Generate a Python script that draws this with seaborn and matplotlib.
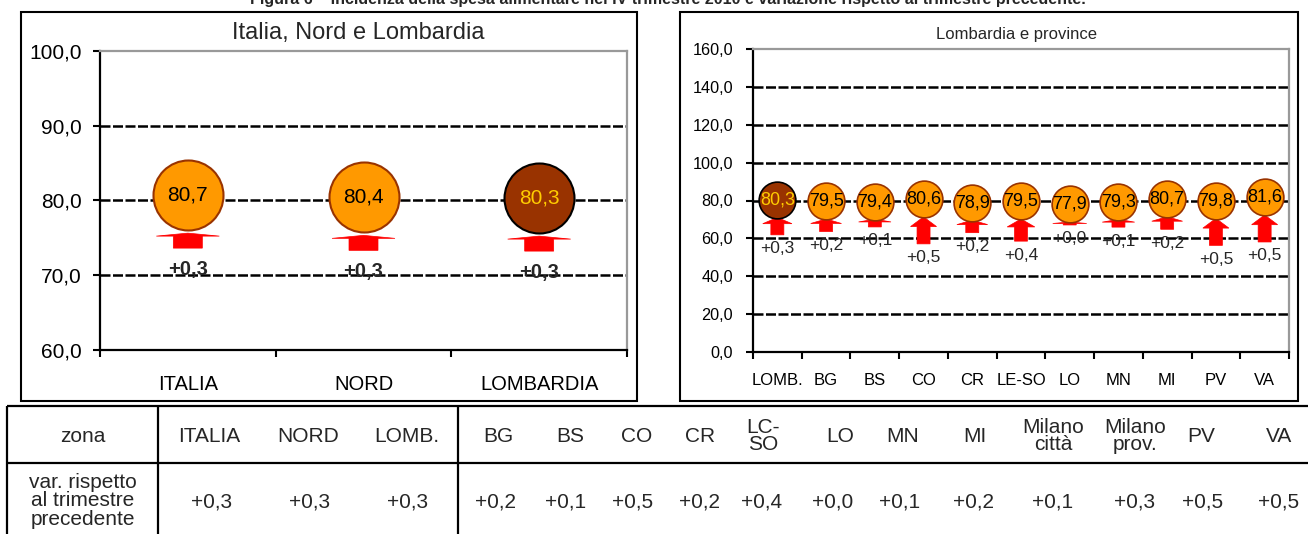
import numpy as np
import pandas as pd
import matplotlib
matplotlib.use("Agg")
import matplotlib.pyplot as plt
import matplotlib.transforms as mtransforms
from matplotlib.patches import Polygon, Rectangle
from matplotlib.lines import Line2D
import seaborn as sns

# ---------------- data ----------------
titolo = ("Figura 6 \u2013 Incidenza della spesa alimentare nel IV trimestre 2010 "
          "e variazione rispetto al trimestre precedente.")

titolo_aree = "Italia, Nord e Lombardia"
aree = ["ITALIA", "NORD", "LOMBARDIA"]
incidenza_aree = [80.7, 80.4, 80.3]
variazione_aree = [0.3, 0.3, 0.3]
evidenza_aree = [False, False, True]

titolo_province = "Lombardia e province"
province = ["LOMB.", "BG", "BS", "CO", "CR", "LE-SO", "LO", "MN", "MI", "PV", "VA"]
incidenza_province = [80.3, 79.5, 79.4, 80.6, 78.9, 79.5, 77.9, 79.3, 80.7, 79.8, 81.6]
variazione_province = [0.3, 0.2, 0.1, 0.5, 0.2, 0.4, 0.0, 0.1, 0.2, 0.5, 0.5]
evidenza_province = [True] + [False] * 10

intestazione_riga = "zona"
intestazione_var = "var. rispetto\nal trimestre\nprecedente"
zone_tabella = ["ITALIA", "NORD", "LOMB.", "BG", "BS", "CO", "CR", "LC-\nSO", "LO",
                "MN", "MI", "Milano\ncittà", "Milano\nprov.", "PV", "VA"]
variazione_tabella = [0.3, 0.3, 0.3, 0.2, 0.1, 0.5, 0.2, 0.4, 0.0, 0.1, 0.2,
                      0.1, 0.3, 0.5, 0.5]

# ---------------- style ----------------
ARANCIO = "#FF9900"
MARRONE = "#993300"
ORO = "#FFCC00"
ROSSO = "#FF0000"
GRIGIO = "#999999"

W, H = 1308, 534
sns.set_theme(style="white")
plt.rcParams["font.family"] = ["Liberation Sans", "DejaVu Sans"]

fig = plt.figure(figsize=(W / 100, H / 100), dpi=100)
fig.patch.set_facecolor("white")


def rect_px(x0, y0, x1, y1):
    """Pixel box measured from the top-left corner -> figure fraction rect."""
    return [x0 / W, 1 - y1 / H, (x1 - x0) / W, (y1 - y0) / H]


def fx(x):
    return x / W


def fy(y):
    return 1 - y / H


def fmt_val(v):
    return f"{v:.1f}".replace(".", ",")


def fmt_var(v):
    return f"{v:+.1f}".replace(".", ",")


def freccia(ax, x, y, top_px, h_px, head_frac, head_w, body_w):
    """Up arrow hanging below the data point (x, y); sizes in pixels."""
    head_h = max(h_px * head_frac, 1.5)
    body_h = max(h_px - head_h, 1.0)
    t = -top_px
    v = [(0, t), (head_w / 2, t - head_h), (body_w / 2, t - head_h),
         (body_w / 2, t - head_h - body_h), (-body_w / 2, t - head_h - body_h),
         (-body_w / 2, t - head_h), (-head_w / 2, t - head_h)]
    v = [(a / 100.0, b / 100.0) for a, b in v]
    tr = fig.dpi_scale_trans + mtransforms.ScaledTranslation(x, y, ax.transData)
    ax.add_patch(Polygon(v, closed=True, transform=tr, facecolor=ROSSO,
                         edgecolor=ROSSO, lw=0.5, zorder=3, clip_on=False))
    return top_px + head_h + body_h


def pannello(ax, etichette, valori, variazioni, evidenza, ymin, ymax, passo,
             s, lw_marker, fs_tick, fs_cat, fs_val, fs_var, bold_var,
             arrow, pad_x, pad_y, label_gap):
    n = len(etichette)
    df = pd.DataFrame({"pos": np.arange(n), "valore": valori,
                       "var": variazioni, "evid": evidenza})
    sns.scatterplot(data=df[~df["evid"]], x="pos", y="valore", s=s,
                    color=ARANCIO, edgecolor=MARRONE, linewidth=lw_marker,
                    zorder=5, legend=False, ax=ax)
    sns.scatterplot(data=df[df["evid"]], x="pos", y="valore", s=s,
                    color=MARRONE, edgecolor="black", linewidth=lw_marker,
                    zorder=5, legend=False, ax=ax)

    ax.set_xlim(-0.5, n - 0.5)
    ax.set_ylim(ymin, ymax)
    yt = np.arange(ymin, ymax + passo / 2, passo)
    ax.set_yticks(yt)
    ax.set_yticklabels([fmt_val(t) for t in yt], fontsize=fs_tick)
    for t in yt[1:-1]:
        ax.axhline(t, color="black", lw=1.8, ls=(0, (4, 1)), zorder=1)

    ax.set_xticks(np.arange(n))
    ax.set_xticklabels(etichette, fontsize=fs_cat)
    ax.set_xticks(np.arange(-0.5, n, 1.0), minor=True)
    ax.tick_params(axis="x", which="major", length=0, pad=pad_x, colors="black")
    ax.tick_params(axis="x", which="minor", bottom=True, direction="out",
                   length=5, width=1.5, color="black")
    ax.tick_params(axis="y", which="major", left=True, direction="out",
                   length=5, width=1.5, color="black", pad=pad_y,
                   labelcolor="black")
    ax.set_xlabel("")
    ax.set_ylabel("")

    for side in ("left", "bottom"):
        ax.spines[side].set_color("black")
        ax.spines[side].set_linewidth(1.6)
    for side in ("top", "right"):
        ax.spines[side].set_color(GRIGIO)
        ax.spines[side].set_linewidth(1.6)
    ax.set_facecolor("none")

    for i, r in df.iterrows():
        ax.annotate(fmt_val(r["valore"]), xy=(r["pos"], r["valore"]),
                    ha="center", va="center", fontsize=fs_val, zorder=6,
                    color=ORO if r["evid"] else "black")
        h = arrow["base"] + arrow["k"] * r["var"]
        hw = arrow["head_w"] - arrow["head_shrink"] * r["var"]
        bottom = freccia(ax, r["pos"], r["valore"], arrow["top"], h,
                         arrow["head_frac"], hw, arrow["body_w"])
        ax.annotate(fmt_var(r["var"]), xy=(r["pos"], r["valore"]),
                    xytext=(0, -(bottom + label_gap) * 0.72),
                    textcoords="offset points", ha="center", va="center",
                    fontsize=fs_var, fontweight="bold" if bold_var else "normal",
                    zorder=6, annotation_clip=False)


# ---------------- title ----------------
fig.text(fx(668), fy(4), titolo, ha="center", va="baseline",
         fontsize=11.5, fontweight="bold")

# ---------------- frames ----------------
for x0, y0, x1, y1 in [(21, 12, 637, 401), (680, 12, 1298, 401)]:
    fig.add_artist(Rectangle((fx(x0), fy(y1)), fx(x1) - fx(x0), fy(y0) - fy(y1),
                             transform=fig.transFigure, fill=False,
                             edgecolor="black", lw=1.5))

# ---------------- left panel ----------------
ax1 = fig.add_axes(rect_px(100, 50.7, 627, 350))
pannello(ax1, aree, incidenza_aree, variazione_aree, evidenza_aree,
         60, 100, 10, s=2540, lw_marker=1.5, fs_tick=15, fs_cat=14.5,
         fs_val=15, fs_var=14.5, bold_var=True,
         arrow=dict(top=38, base=0, k=50, head_frac=0.2, head_w=63,
                    head_shrink=0, body_w=29),
         pad_x=18, pad_y=8, label_gap=21)
fig.text(fx(358), fy(33), titolo_aree, ha="center", va="center", fontsize=17)

# ---------------- right panel ----------------
ax2 = fig.add_axes(rect_px(753, 49.3, 1289, 351.7))
pannello(ax2, province, incidenza_province, variazione_province,
         evidenza_province, 0, 160, 20, s=700, lw_marker=1.2, fs_tick=11.7,
         fs_cat=12, fs_val=13, fs_var=12.5, bold_var=False,
         arrow=dict(top=17.5, base=3, k=48, head_frac=0.36, head_w=34,
                    head_shrink=16, body_w=13),
         pad_x=15, pad_y=9.4, label_gap=14)
fig.text(fx(1016), fy(35), titolo_province, ha="center", va="center",
         fontsize=12)

# ---------------- table ----------------
def linea(x0, y0, x1, y1, lw=1.6):
    fig.add_artist(Line2D([fx(x0), fx(x1)], [fy(y0), fy(y1)],
                          transform=fig.transFigure, color="black", lw=lw,
                          solid_capstyle="butt"))


linea(7, 406, W, 406)
linea(7, 463, W, 463)
for xv in (7, 158, 458):
    linea(xv, 406, xv, H + 2)

x_intest = [209, 308, 407, 498, 570, 637, 700, 763, 840, 903, 975, 1053, 1135,
            1201, 1279]
x_valori = [212, 310, 408, 495, 566, 633, 699, 762, 833, 900, 973, 1053, 1135,
            1203, 1279]

fig.text(fx(83), fy(436), intestazione_riga, ha="center", va="center",
         fontsize=15)
fig.text(fx(83), fy(501), intestazione_var, ha="center", va="center",
         fontsize=15, linespacing=0.95)
for xh, xv, z, v in zip(x_intest, x_valori, zone_tabella, variazione_tabella):
    fig.text(fx(xh), fy(436), z, ha="center", va="center", fontsize=15,
             linespacing=0.9)
    fig.text(fx(xv), fy(502), fmt_var(v), ha="center", va="center",
             fontsize=15)

fig.savefig("out.png", dpi=100, facecolor="white")
